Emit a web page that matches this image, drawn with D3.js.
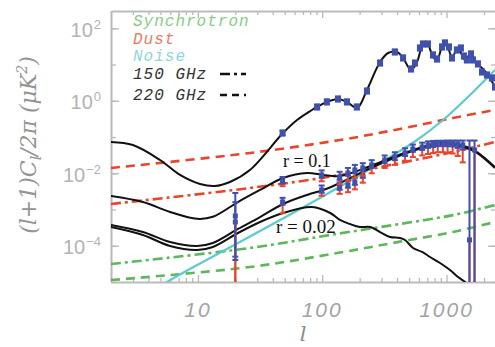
<!DOCTYPE html>
<html><head><meta charset="utf-8">
<script src="https://cdn.jsdelivr.net/npm/d3@7"></script>
<style>body{margin:0;background:#fff}svg{display:block}</style>
</head><body>
<svg id="chart" width="495" height="347"></svg>
<script>
// ---- E-mode model spectrum ----
const eeModelEll = [2,3,4.96,7.18,10.4,13.7,18.1,26.2,48.4,62.7,82.7,90.7,109,134,158,191,229,292,339,400,447,518,579,635,697,778,839,920,990,1107,1237,1408,1573,1694,1928,2153,2452];
const eeModelVal = [0.073,0.060,0.0232,0.00897,0.00506,0.00446,0.00574,0.0123,0.129,0.295,0.557,0.674,0.927,1.12,0.927,0.633,1.99,11.8,20.8,22.2,15.2,7.08,11.8,30.5,39.4,16.2,13.4,30.5,39.4,16.2,28.6,13.4,20.8,11.8,8.04,5.15,2.40];

// ---- E-mode band powers ----
const eeEll = [48,91,109,134,158,190,229,292,384,447,518,557,611,646,709,778,839,920,971,1046,1107,1212,1305,1380,1459,1573,1631,1789,1928,2114,2318,2452];
const eeVal = [0.129,0.674,0.93,1.12,0.93,0.674,1.86,11.0,22.2,15.2,7.54,11.0,28.6,36.9,36.9,18.4,14.2,30.5,39.4,30.5,15.2,25.2,28.6,17.2,13.4,19.6,13.4,10.4,6.24,5.15,4.26,2.40];

// ---- B-mode models (tensor + lensing) ----
const bbEll = [2,3.61,5.97,9.84,13.2,21.0,31.6,48.4,75.5,102,139,256,481,887,1462,1760,2452];
const bbR010 = [2.36e-3,1.61e-3,8.55e-4,5.54e-4,6.29e-4,1.61e-3,3.46e-3,7.42e-3,0.0102,8.97e-3,8.4e-3,0.0169,0.0386,0.0685,0.0531,0.0386,0.0149];
const bbR002 = [3.74e-4,2.40e-4,1.27e-4,9.84e-5,1.19e-4,2.90e-4,6.21e-4,1.42e-3,2.52e-3,3.46e-3,5.40e-3,0.0149,0.0363,0.0643,0.0499,0.0363,0.0140];

// ---- Tensor-only B-mode, r = 0.02 ----
const tensorEll = [2,3.61,5.97,9.84,13.2,21.0,31.6,48.4,82.8,116,139,167,201,243,292,351,423,464,538,636,737,887,1067,1238,1409,1546];
const tensorR002 = [3.29e-4,1.98e-4,9.84e-5,7.64e-5,9.24e-5,2.25e-4,4.53e-4,8.02e-4,1.17e-3,8.02e-4,5.14e-4,3.98e-4,3.29e-4,3.29e-4,2.39e-4,1.74e-4,1.64e-4,1.44e-4,8.67e-5,6.73e-5,4.90e-5,3.34e-5,2.14e-5,1.37e-5,1e-5,6e-6];

// ---- Foregrounds and noise ----
const fgEll = [2,26.2,139,423,1126,2452];
const dust220 = [0.0140,0.0363,0.0828,0.167,0.335,0.557];
const dust150 = [1.42e-3,3.92e-3,8.97e-3,0.0192,0.0386,0.0730];
const sync150 = [3.14e-5,8.67e-5,2.2e-4,4.0e-4,7.0e-4,1.33e-3];
const sync220 = [1.13e-5,2.59e-5,6.5e-5,1.3e-4,2.4e-4,4.53e-4];
const noiseEll = [4.5,5.65,21.0,95.9,320,579,938,1546,2452];
const noiseVal = [5.6e-6,1e-5,1.19e-4,2.08e-3,0.0232,0.0828,0.295,1.45,7.08];

// ---- B-mode band powers, r = 0.1 simulation ----
const bbHiEll = [20,48,99,138,161,183,212,250,318,384,464,536,637,710,780,850,935,1020,1120,1230,1350,1530,1680];
const bbHiVal = [6.62e-4,6.12e-3,8.97e-3,7.89e-3,0.0102,0.0123,0.0140,0.0169,0.0232,0.0281,0.0363,0.0468,0.0531,0.0603,0.0643,0.0685,0.0685,0.0685,0.0685,0.0643,0.0603,1.45e-4,0.0439];
const bbHiTop = [2.86e-3,7.9e-3,0.012,0.011,0.014,0.017,0.019,0.023,0.031,0.038,0.049,0.062,0.070,0.076,0.078,0.079,0.079,0.080,0.080,0.080,0.080,0.080,0.080];
const bbHiBot = [4.05e-5,5.2e-3,7.6e-3,6.6e-3,8.5e-3,0.010,0.012,0.014,0.019,0.023,0.030,0.039,0.044,0.050,0.053,0.056,0.056,0.056,0.055,0.050,0.045,1e-7,1e-7];
const bbHiRed = [1e-7,4.4e-3,6.0e-3,5.0e-3,6.0e-3,7.5e-3,8.5e-3,0.010,0.014,0.017,0.022,0.028,0.031,0.034,0.036,0.038,0.038,0.037,0.035,0.030,0.020,1e-7,1e-7];

// ---- B-mode band powers, r = 0.02 simulation ----
const bbLoEll = [20,48,99,138,161,183,212];
const bbLoVal = [4.53e-4,1.61e-3,3.46e-3,4.18e-3,4.75e-3,5.74e-3,8.97e-3];
const bbLoTop = [1.6e-3,2.1e-3,4.6e-3,5.6e-3,6.4e-3,7.6e-3,0.012];
const bbLoBot = [5e-5,1.35e-3,2.9e-3,3.5e-3,4.0e-3,4.8e-3,7.5e-3];
const bbLoRed = [1e-7,7.9e-4,2.4e-3,2.7e-3,3.0e-3,3.6e-3,5.5e-3];

// ---- Axis ticks ----
const yTickVals = [1e2,1e0,1e-2,1e-4];
const yTickExp = ["2","0","\u22122","\u22124"];
const xTickVals = [10,100,1000];
const xTickLabels = ["10","100","1000"];

const W = 495, H = 347;
const M = {left:111, right:496, top:11, bottom:282};
const svg = d3.select("#chart");
svg.append("rect").attr("width",W).attr("height",H).attr("fill","#fff");

const x = d3.scaleLog().domain([2,2500]).range([M.left,M.right]);
const y = d3.scaleLog().domain([1e-5,300]).range([M.bottom,M.top]);

svg.append("clipPath").attr("id","plot").append("rect")
  .attr("x",M.left).attr("y",M.top).attr("width",M.right-M.left).attr("height",M.bottom-M.top);

const BLUE="#3f51ad", RED="#e8452c", GREEN="#5cb85a", CYAN="#5ccad2", AXIS="#b9b9b9";

// ---- axes frame and ticks ----
const minorX = [];
for (let e=0;e<4;e++) for (let k=2;k<10;k++){const v=k*Math.pow(10,e); if(v>=2 && v<=2500) minorX.push(v);}
const decY = d3.range(-5,3).map(e=>Math.pow(10,e));
const axes = svg.append("g");
function styleAxis(g){ g.select(".domain").attr("stroke",AXIS).attr("stroke-width",1.6);
  g.selectAll(".tick line").attr("stroke",AXIS).attr("stroke-width",1.3); g.selectAll(".tick text").remove(); }
function addAxis(axis, tx, ty){ axes.append("g").attr("transform",`translate(${tx},${ty})`).call(axis).call(styleAxis); }
addAxis(d3.axisBottom(x).tickValues(xTickVals).tickSize(-7).tickSizeOuter(0).tickFormat(""),0,M.bottom);
addAxis(d3.axisBottom(x).tickValues(minorX).tickSize(-4).tickSizeOuter(0).tickFormat(""),0,M.bottom);
addAxis(d3.axisTop(x).tickValues(xTickVals).tickSize(-7).tickSizeOuter(0).tickFormat(""),0,M.top);
addAxis(d3.axisTop(x).tickValues(minorX).tickSize(-4).tickSizeOuter(0).tickFormat(""),0,M.top);
addAxis(d3.axisLeft(y).tickValues(decY).tickSize(-5).tickSizeOuter(0).tickFormat(""),M.left,0);
addAxis(d3.axisLeft(y).tickValues(yTickVals).tickSize(-8).tickSizeOuter(0).tickFormat(""),M.left,0);
addAxis(d3.axisRight(y).tickValues(decY).tickSize(-5).tickSizeOuter(0).tickFormat(""),M.right,0);
addAxis(d3.axisRight(y).tickValues(yTickVals).tickSize(-8).tickSizeOuter(0).tickFormat(""),M.right,0);

// y tick labels 10^n
yTickVals.forEach((v,i)=>{
  const t = svg.append("text").attr("x",101).attr("y",y(v)+8.5).attr("text-anchor","end")
    .attr("font-family","Liberation Sans, Arial, sans-serif").attr("font-size",20).attr("fill","#b3b3b3");
  t.append("tspan").text("10");
  t.append("tspan").attr("font-size",13).attr("dy",-8).attr("dx",1).text(yTickExp[i]);
});
// x tick labels
xTickVals.forEach((v,i)=>{
  svg.append("text").attr("x",x(v)).attr("y",317).attr("text-anchor","middle")
    .attr("font-family","Liberation Sans, Arial, sans-serif").attr("font-style","italic")
    .attr("font-size",21).attr("letter-spacing",2).attr("fill","#a3a3a3").text(xTickLabels[i]);
});
// axis titles
svg.append("text").attr("x",303).attr("y",341).attr("text-anchor","middle")
  .attr("font-family","DejaVu Serif, serif").attr("font-style","italic").attr("font-size",21)
  .attr("fill","#8c8c8c").text("l");
const yt = svg.append("text").attr("transform","translate(36,145) rotate(-90)").attr("text-anchor","middle")
  .attr("font-family","DejaVu Serif, serif").attr("font-style","italic").attr("font-size",22).attr("fill","#949494");
yt.append("tspan").text("(l+1)C");
yt.append("tspan").attr("font-size",14).attr("dy",5).text("l");
yt.append("tspan").attr("dy",-5).text("/2\u03c0 (\u03bcK");
yt.append("tspan").attr("font-size",14).attr("dy",-9).text("2");
yt.append("tspan").attr("dy",9).text(")");

// ---- plotted curves ----
const plot = svg.append("g").attr("clip-path","url(#plot)");
const line = d3.line().x(d=>x(d[0])).y(d=>y(d[1])).curve(d3.curveCatmullRom.alpha(0.5));
const zip = (a,b)=>a.map((v,i)=>[v,b[i]]);
function curve(ell, vals, color, width, dash){
  plot.append("path").datum(zip(ell,vals)).attr("d",line).attr("fill","none")
    .attr("stroke",color).attr("stroke-width",width).attr("stroke-dasharray",dash||null);
}
const DASH = "9,6", DASHDOT = "10,4,3,4";
curve(fgEll, sync150, GREEN, 2.6, DASHDOT);
curve(fgEll, sync220, GREEN, 2.6, DASH);
curve(fgEll, dust150, RED, 2.6, DASHDOT);
curve(fgEll, dust220, RED, 2.6, DASH);
curve(noiseEll, noiseVal, CYAN, 2.2);
curve(tensorEll, tensorR002, "#111", 2);
curve(bbEll, bbR002, "#111", 2);
curve(bbEll, bbR010, "#111", 2);
curve(eeModelEll, eeModelVal, "#111", 2);

// ---- band powers: blue error bar, red lower extension behind it ----
function bandPowers(ell, val, top, bot, red){
  const g = plot.append("g");
  ell.forEach((l,i)=>{
    const px = x(l), yv = y(val[i]), yt = y(top[i]), yb = y(bot[i]), yr = y(red[i]);
    g.append("line").attr("x1",px).attr("x2",px).attr("y1",yv).attr("y2",yr).attr("stroke",RED).attr("stroke-width",2);
    g.append("line").attr("x1",px-3).attr("x2",px+3).attr("y1",yr).attr("y2",yr).attr("stroke",RED).attr("stroke-width",2);
    g.append("line").attr("x1",px).attr("x2",px).attr("y1",yt).attr("y2",yb).attr("stroke",BLUE).attr("stroke-width",2);
    g.append("line").attr("x1",px-3).attr("x2",px+3).attr("y1",yt).attr("y2",yt).attr("stroke",BLUE).attr("stroke-width",2);
    g.append("line").attr("x1",px-3).attr("x2",px+3).attr("y1",yb).attr("y2",yb).attr("stroke",BLUE).attr("stroke-width",2);
    g.append("rect").attr("x",px-2.5).attr("y",yv-2.5).attr("width",5).attr("height",5).attr("fill",BLUE);
  });
}
bandPowers(bbLoEll, bbLoVal, bbLoTop, bbLoBot, bbLoRed);
bandPowers(bbHiEll, bbHiVal, bbHiTop, bbHiBot, bbHiRed);

// E-mode points: squares with small caps
const eeG = plot.append("g");
eeEll.forEach((l,i)=>{
  const px = x(l), v = eeVal[i], t = y(v*1.18), b = y(v/1.18);
  eeG.append("line").attr("x1",px).attr("x2",px).attr("y1",t).attr("y2",b).attr("stroke",BLUE).attr("stroke-width",2);
  [t,b].forEach(yy=>eeG.append("line").attr("x1",px-3).attr("x2",px+3).attr("y1",yy).attr("y2",yy).attr("stroke",BLUE).attr("stroke-width",2));
  eeG.append("rect").attr("x",px-3).attr("y",y(v)-3).attr("width",6).attr("height",6).attr("fill",BLUE);
});

// ---- labels on curves ----
svg.append("text").attr("x",283).attr("y",167).attr("font-family","Liberation Serif, serif").attr("font-size",18).attr("fill","#111").text("r = 0.1");
svg.append("text").attr("x",276).attr("y",233).attr("font-family","Liberation Serif, serif").attr("font-size",19).attr("fill","#111").text("r = 0.02");

// ---- legend ----
const legend = [
  {t:"Synchrotron", c:"#86cc86", y:26},
  {t:"Dust", c:"#e57b62", y:44},
  {t:"Noise", c:"#8fd6da", y:61},
  {t:"150 GHz", c:"#333", y:79, dash:DASHDOT},
  {t:"220 GHz", c:"#333", y:100, dash:"7,5"}
];
legend.forEach(d=>{
  svg.append("text").attr("x",133).attr("y",d.y).attr("font-family","Liberation Mono, monospace")
    .attr("font-style","italic").attr("font-size",16).attr("letter-spacing",1).attr("fill",d.c).text(d.t);
  if(d.dash) svg.append("line").attr("x1",220).attr("x2",246).attr("y1",d.y-5).attr("y2",d.y-5)
    .attr("stroke","#111").attr("stroke-width",2.5).attr("stroke-dasharray",d.dash);
});
</script>
</body></html>
